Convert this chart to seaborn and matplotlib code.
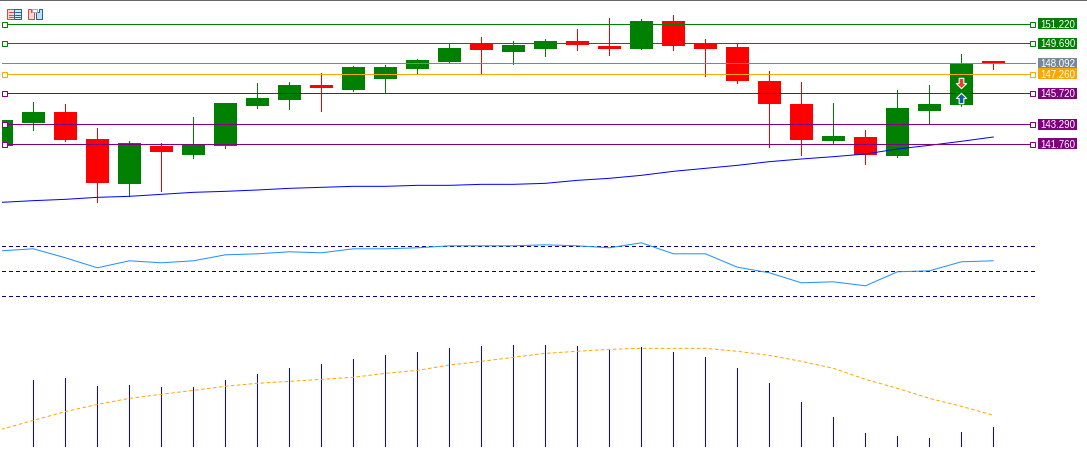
import matplotlib
matplotlib.use('Agg')
import matplotlib.pyplot as plt
from matplotlib.patches import Rectangle, Polygon
from matplotlib.path import Path
from matplotlib.transforms import offset_copy
import numpy as np
import pandas as pd
import seaborn as sns

# candles
open_ = [141.655,143.441,144.309,142.180,138.633,141.628,140.919,141.655,144.782,145.255,146.437,146.043,
         146.910,147.698,148.250,149.722,149.039,149.275,149.906,149.512,149.275,151.482,149.722,149.433,
         146.752,144.939,142.022,142.338,140.840,144.387,144.860,148.329]
close = [143.678,144.309,142.101,138.711,141.865,141.155,141.733,145.018,145.412,146.437,146.201,147.856,
         147.856,148.408,149.354,149.196,149.590,149.906,149.590,149.275,151.482,149.512,149.275,146.752,
         144.939,142.101,142.417,140.919,144.624,144.939,148.093,148.093]
high = [143.678,145.097,144.939,143.047,142.022,141.838,143.914,145.018,146.595,146.674,147.383,147.935,
        148.014,148.487,149.722,150.221,149.906,150.063,150.852,151.719,151.640,151.955,150.063,149.722,
        147.541,146.674,145.018,142.890,146.043,146.437,148.881,148.329]
low = [141.655,142.890,142.022,137.214,137.687,138.081,140.682,141.471,144.624,144.545,144.387,145.964,
       145.885,147.304,148.171,147.304,148.093,148.723,149.196,148.802,149.275,149.196,147.147,146.595,
       141.549,140.919,141.865,140.209,140.761,143.336,144.782,147.698]
ma = [137.187,137.319,137.424,137.581,137.660,137.818,137.976,138.054,138.160,138.291,138.370,138.449,
      138.449,138.527,138.527,138.606,138.606,138.685,138.922,139.079,139.316,139.631,139.868,140.104,
      140.393,140.603,140.787,140.998,141.392,141.681,141.996,142.338]

rsi = [66.0,67.6,60.4,52.4,58.0,56.4,58.0,62.8,63.6,65.2,64.4,67.6,67.6,68.4,70.0,70.0,
       70.0,70.8,70.0,68.4,72.4,63.6,63.6,52.9,48.4,40.4,41.2,38.0,49.2,50.0,57.2,58.0]
rsi_levels = [70,50,30]

hist = [69.3,71.4,63.1,64.1,62.1,62.1,69.3,75.5,81.7,85.9,91.0,95.2,98.3,102.4,104.5,105.5,
        105.5,104.5,100.3,103.4,98.3,93.1,81.7,66.2,46.6,31.0,14.5,11.4,9.3,15.5,20.7]
signal = [18.3,27.6,36.6,44.1,50.3,54.5,58.6,62.8,65.9,67.9,70.0,72.1,76.2,79.3,84.8,88.6,
          92.8,96.9,99.0,101.0,102.1,102.1,102.1,99.0,94.8,88.6,81.4,70.0,60.7,50.3,42.1,32.8]

level_vals = [151.22,149.69,147.26,145.72,143.29,141.76]
level_cols = ['#008000','#008000','#ffa500','#800080','#800080','#800080']
level_txt = ['151.220','149.690','147.260','145.720','143.290','141.760']
last_price = 148.092
last_txt = '148.092'
last_col = '#778899'

W,H = 1087,469
LW = 0.72  # one pixel at dpi 100

sns.set_theme(style='white')
plt.rcParams['font.family'] = ['Liberation Sans','DejaVu Sans']

fig = plt.figure(figsize=(W/100,H/100),dpi=100,facecolor='white')

def px_axes(left,top,right,bottom):
    a = fig.add_axes([left/W,1-bottom/H,(right-left)/W,(bottom-top)/H])
    a.axis('off')
    a.patch.set_alpha(0)
    return a

def set_bars(a):
    # bar i sits at pixel 1.4+32*i
    a.set_xlim((2-1.4)/32,(1087-1.4)/32)
    a.axis('off')

df = pd.DataFrame({'bar':np.arange(len(close)),'open':open_,'close':close,'high':high,'low':low,
                   'ma':ma,'rsi':rsi,'signal':signal})
df['col'] = np.where(df['close']>=df['open'],'#008000','#ff0000')

##price panel
ax = px_axes(2,1,1087,230)
ax.set_ylim(135.006,153.059)
ax.vlines(df['bar'],df['low'],df['high'],colors=df['col'],lw=LW,antialiased=False,zorder=2)
ax.bar(df['bar'],(df['close']-df['open']).abs(),bottom=df[['open','close']].min(axis=1),width=23/32,
       color=df['col'],linewidth=0,antialiased=False,zorder=3)
sns.lineplot(x='bar',y='ma',data=df,ax=ax,color='#0000ff',zorder=4,estimator=None)
ax.lines[-1].set_linewidth(LW)
set_bars(ax)

# level lines sit a little higher than the candle scale gives
tr = offset_copy(ax.get_yaxis_transform(),fig=fig,y=0.7,units='dots')
x0 = (4-2)/1085
x1 = (1032-2)/1085
box_l = (1038-2)/1085
box_w = 39/1085
xl = box_l+box_w/2
box_h = 11*0.078834

ax.plot([0,(1035-2)/1085],[last_price,last_price],transform=tr,color=last_col,lw=LW,antialiased=False,zorder=5)
ax.add_patch(Rectangle((box_l,last_price-box_h/2),box_w,box_h,transform=tr,fc=last_col,ec='none',antialiased=False,zorder=7))
ax.text(xl,last_price,last_txt,transform=tr,color='white',fontsize=7,ha='center',va='center_baseline',zorder=8)
for val,col,txt in zip(level_vals,level_cols,level_txt):
    ax.plot([x0,x1],[val,val],transform=tr,color=col,lw=LW,antialiased=False,zorder=5)
    ax.plot([x0,x1],[val,val],transform=tr,ls='none',marker='s',ms=3.6,mfc='white',mec=col,mew=LW,zorder=6)
    ax.add_patch(Rectangle((box_l,val-box_h/2),box_w,box_h,transform=tr,fc=col,ec='none',antialiased=False,zorder=7))
    ax.text(xl,val,txt,transform=tr,color='white',fontsize=7,ha='center',va='center_baseline',zorder=8)

# the two arrows on the green candle
up = Path([(-1,0),(0,1),(1,0),(0.45,0),(0.45,-1),(-0.45,-1),(-0.45,0),(-1,0)],closed=True)
down = Path([(-1,0),(0,-1),(1,0),(0.45,0),(0.45,1),(-0.45,1),(-0.45,0),(-1,0)],closed=True)
ax.plot([30],[146.57],ls='none',marker=down,ms=7.5,mfc='#e8412a',mec='white',mew=0.8,zorder=9)
ax.plot([30],[145.39],ls='none',marker=up,ms=7.5,mfc='#0a5fa8',mec='white',mew=0.8,zorder=9)

##rsi panel
ax2 = px_axes(2,235,1087,305)
ax2.set_ylim(70-59.2/1.25,70+10.8/1.25)
for lev in rsi_levels:
    ax2.axhline(lev,xmin=0,xmax=(1035-2)/1085,color='#00008b',lw=LW,ls=(0,(3,3)),antialiased=False)
sns.lineplot(x='bar',y='rsi',data=df,ax=ax2,color='#1e90ff',estimator=None)
ax2.lines[-1].set_linewidth(LW)
set_bars(ax2)

##histogram panel
ax3 = px_axes(2,330,1087,447)
ax3.set_ylim(0,117*3/2.9)
ax3.vlines(df['bar'][1:],0,hist,colors='#0000ff',lw=LW,antialiased=False)
sns.lineplot(x='bar',y='signal',data=df,ax=ax3,color='#ffa500',estimator=None)
ax3.lines[-1].set_linewidth(LW)
ax3.lines[-1].set_linestyle((0,(3.5,2.5)))
set_bars(ax3)

##window bits, top edge and the two toolbar icons
top = fig.add_axes([0,0,1,1],zorder=10)
top.axis('off')
top.patch.set_alpha(0)
top.set_xlim(0,W)
top.set_ylim(H,0)
top.add_patch(Rectangle((0,0),W,1,fc='#666666',ec='none',antialiased=False))
top.add_patch(Rectangle((6.5,9.5),7.5,10,fc='#fcd9d2',ec='#e0443a',lw=LW))
top.add_patch(Rectangle((14,9.5),6.5,10,fc='#cfe8fa',ec='#1a64a8',lw=LW))
for yy in (12.5,15,17.5):
    top.plot([8.5,12.5],[yy,yy],color='#e0443a',lw=LW)
    top.plot([15,19.5],[yy,yy],color='#1a64a8',lw=LW)
top.add_patch(Polygon([(27.5,9.5),(31,9.5),(31,12.5),(33.5,12.5),(33.5,19.5),(27.5,19.5)],fc='#fcd9d2',ec='#e0443a',lw=LW))
top.add_patch(Polygon([(41.5,9.5),(38.5,9.5),(38.5,12.5),(35.5,12.5),(35.5,19.5),(41.5,19.5)],fc='#bfe0f7',ec='#1a64a8',lw=LW))
top.add_patch(Rectangle((32,9.5),5,2.5,fc='white',ec='#aaaaaa',lw=LW))

fig.savefig('out.png',dpi=100)
